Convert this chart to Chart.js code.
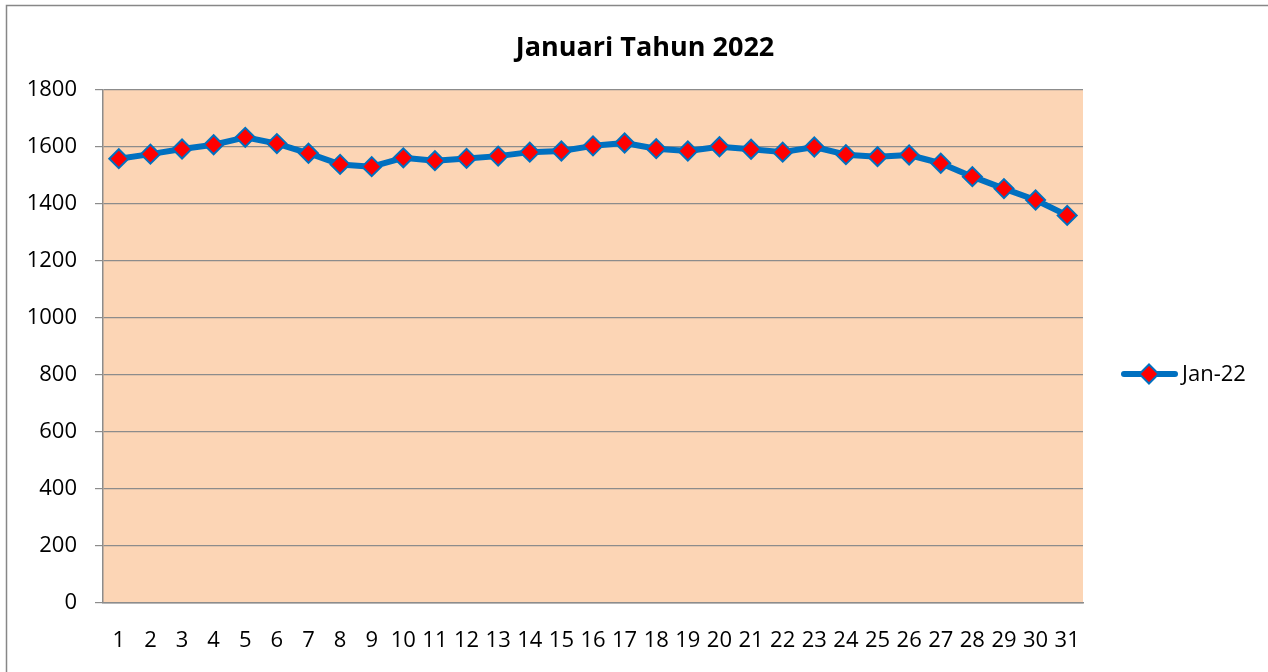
<!DOCTYPE html>
<html>
<head>
<meta charset="utf-8">
<title>Januari Tahun 2022</title>
<script src="https://cdn.jsdelivr.net/npm/chart.js@4/dist/chart.umd.min.js"></script>
<style>
    html, body { margin: 0; padding: 0; background: #fff; }
    #wrap { width: 1268px; height: 672px; position: relative; }
</style>
</head>
<body>
<div id="wrap"><canvas id="janChart"></canvas></div>
<script>
// --- Data ---
const chartTitle = 'Januari Tahun 2022';
const seriesName = 'Jan-22';
const days = ['1','2','3','4','5','6','7','8','9','10','11','12','13','14','15','16',
              '17','18','19','20','21','22','23','24','25','26','27','28','29','30','31'];
const values = [1559, 1575, 1593, 1608, 1634, 1612, 1578, 1539, 1531, 1562, 1552,
                1560, 1568, 1582, 1586, 1604, 1614, 1594, 1586, 1601, 1592, 1582,
                1600, 1573, 1566, 1572, 1543, 1496, 1454, 1414, 1360];
const yTicks = [0, 200, 400, 600, 800, 1000, 1200, 1400, 1600, 1800];

const FONT = '"Open Sans", "Noto Sans", sans-serif';
const LINE_BLUE = '#0070c0';
const MARK_RED = '#ff0000';
const GRID = '#8c8c8c';

// --- Frame, plot fill, title and legend ---
const decor = {
    id: 'decor',
    beforeDraw(chart) {
        const { ctx, chartArea: a } = chart;
        ctx.save();
        ctx.fillStyle = '#fcd5b5';
        ctx.fillRect(a.left, a.top, a.right - a.left, a.bottom - a.top);
        ctx.strokeStyle = '#878787';
        ctx.lineWidth = 1.5;
        ctx.strokeRect(6.5, 5.5, chart.width + 20, chart.height + 20);
        ctx.restore();
    },
    afterDraw(chart) {
        const { ctx } = chart;
        const ds = chart.data.datasets[0];
        ctx.save();
        ctx.fillStyle = '#000';
        ctx.textAlign = 'center';
        ctx.textBaseline = 'middle';
        ctx.font = 'bold 27px ' + FONT;
        ctx.fillText(chartTitle, 645, 48);

        // legend: line + diamond + label
        const ly = 374;
        ctx.strokeStyle = ds.borderColor;
        ctx.lineWidth = ds.borderWidth;
        ctx.lineCap = 'round';
        ctx.beginPath();
        ctx.moveTo(1124, ly);
        ctx.lineTo(1175, ly);
        ctx.stroke();
        const r = ds.pointRadius;
        ctx.fillStyle = ds.pointBackgroundColor;
        ctx.strokeStyle = ds.pointBorderColor;
        ctx.lineWidth = ds.pointBorderWidth;
        ctx.beginPath();
        ctx.moveTo(1149 - r, ly);
        ctx.lineTo(1149, ly - r);
        ctx.lineTo(1149 + r, ly);
        ctx.lineTo(1149, ly + r);
        ctx.closePath();
        ctx.fill();
        ctx.stroke();
        ctx.fillStyle = '#000';
        ctx.textAlign = 'left';
        ctx.font = '22px ' + FONT;
        ctx.fillText(seriesName, 1182, ly + 1);
        ctx.restore();
    }
};

// --- Chart ---
function initChart() {
    const ctx = document.getElementById('janChart').getContext('2d');
    return new Chart(ctx, {
        type: 'line',
        data: {
            labels: days,
            datasets: [{
                label: seriesName,
                data: values,
                borderColor: LINE_BLUE,
                borderWidth: 6,
                borderJoinStyle: 'round',
                tension: 0,
                fill: false,
                pointStyle: 'rectRot',
                pointRadius: 9.5,
                pointBackgroundColor: MARK_RED,
                pointBorderColor: LINE_BLUE,
                pointBorderWidth: 2
            }]
        },
        options: {
            responsive: true,
            maintainAspectRatio: false,
            animation: false,
            layout: { padding: { top: 90, right: 185, bottom: 19, left: 0 } },
            scales: {
                x: {
                    offset: true,
                    grid: { display: false, drawTicks: false },
                    border: { display: true, color: GRID, width: 1.5 },
                    ticks: { color: '#000', padding: 25, maxRotation: 0, autoSkip: false,
                             font: { family: FONT, size: 22 } },
                    afterFit(scale) { scale.height = 50; }
                },
                y: {
                    min: 0,
                    max: 1800,
                    afterBuildTicks(scale) { scale.ticks = yTicks.map(v => ({ value: v })); },
                    grid: { color: GRID, lineWidth: 1.2, tickLength: 8 },
                    border: { display: true, color: GRID, width: 1.5 },
                    ticks: { color: '#000', padding: 18, font: { family: FONT, size: 22 },
                             callback: v => String(v) },
                    afterFit(scale) { scale.width = 103; }
                }
            },
            plugins: {
                legend: { display: false },
                title: { display: false },
                tooltip: { enabled: false }
            }
        },
        plugins: [decor]
    });
}

initChart();
</script>
</body>
</html>
